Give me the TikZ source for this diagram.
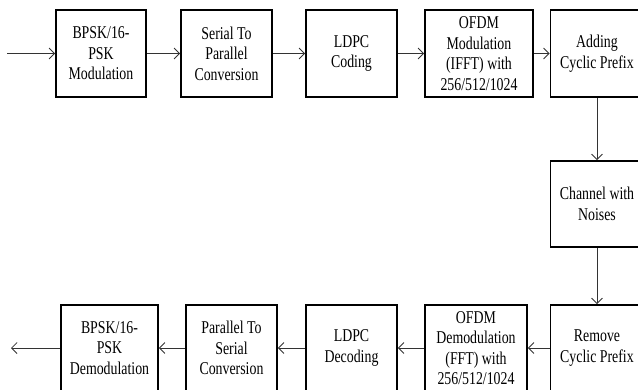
\documentclass[tikz,border=0pt]{standalone}
\usepackage{fontspec}
\setmainfont{Liberation Serif}[FakeStretch=0.77]
\usetikzlibrary{arrows.meta}
\tikzset{
  blk/.style={draw=black, line width=1.8pt, align=center, inner sep=0pt,
    font=\fontsize{18}{20.5}\selectfont, minimum height=87pt},
  conn/.style={draw=black!80, line width=0.8pt, -{Straight Barb[length=5.5pt,width=11pt]}}
}
\begin{document}
\begin{tikzpicture}[x=1pt,y=-1pt]
\useasboundingbox (0,0) rectangle (638,389);
\clip (0,0) rectangle (638,389);
% top row
\node[blk, minimum width=90pt] (t1) at (101,53.5) {BPSK/16-\\PSK\\Modulation};
\node[blk, minimum width=91pt] (t2) at (226.5,53.5) {Serial To\\Parallel\\Conversion};
\node[blk, minimum width=91pt] (t3) at (351.5,53.5) {LDPC\\Coding};
\node[blk, minimum width=108pt] (t4) at (479,53.5) {OFDM\\Modulation\\(IFFT) with\\256/512/1024};
\node[blk, minimum width=93pt] (t5) at (597,53.5) {Adding\\Cyclic Prefix};
% channel
\node[blk, minimum width=93pt, minimum height=86pt] (ch) at (597,204) {Channel with\\Noises};
% bottom row
\node[blk, minimum width=93pt, minimum height=86pt] (b5) at (597,348) {Remove\\Cyclic Prefix};
\node[blk, minimum width=102pt, minimum height=86pt] (b4) at (476,348) {OFDM\\Demodulation\\(FFT) with\\256/512/1024};
\node[blk, minimum width=91pt, minimum height=86pt] (b3) at (351.5,348) {LDPC\\Decoding};
\node[blk, minimum width=91pt, minimum height=86pt] (b2) at (231.5,348) {Parallel To\\Serial\\Conversion};
\node[blk, minimum width=97pt, minimum height=86pt] (b1) at (109.5,348) {BPSK/16-\\PSK\\Demodulation};
\coordinate (in) at (7,53.5);
\coordinate (out) at (11,348);
% connectors
\draw[conn] (in) -- (t1.west);
\draw[conn] (t1) -- (t2);
\draw[conn] (t2) -- (t3);
\draw[conn] (t3) -- (t4);
\draw[conn] (t4) -- (t5);
\draw[conn] (t5) -- (ch);
\draw[conn] (ch) -- (b5);
\draw[conn] (b5) -- (b4);
\draw[conn] (b4) -- (b3);
\draw[conn] (b3) -- (b2);
\draw[conn] (b2) -- (b1);
\draw[conn] (b1.west) -- (out);
\end{tikzpicture}
\end{document}
